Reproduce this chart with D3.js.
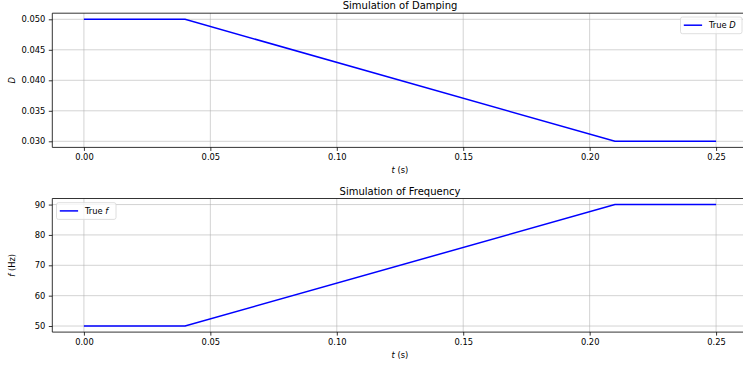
<!DOCTYPE html>
<html><head><meta charset="utf-8">
<script src="https://cdn.jsdelivr.net/npm/d3@7"></script>
<style>body{margin:0;background:#fff}svg{display:block;font-family:"DejaVu Sans",sans-serif}</style>
</head><body>
<svg id="c" width="743" height="369"></svg>
<script>
const timeBreaks = [0.0, 0.04, 0.21, 0.25];
const dampingValues = [0.05, 0.05, 0.03, 0.03];
const freqValues = [50, 50, 90, 90];
const xTicks = [0.00, 0.05, 0.10, 0.15, 0.20, 0.25];
const dTicks = [0.030, 0.035, 0.040, 0.045, 0.050];
const fTicks = [50, 60, 70, 80, 90];

const svg = d3.select("#c");
const W = 743;
const left = 52.3, right = 747.7;

function panel(cfg){
  const g = svg.append("g");
  const x = d3.scaleLinear().domain([-0.0125, 0.2625]).range([left, right]);
  const y = d3.scaleLinear().domain(cfg.ydom).range([cfg.bottom, cfg.top]);
  // grid
  g.append("g").selectAll("line").data(xTicks).join("line")
    .attr("x1", d=>x(d)).attr("x2", d=>x(d)).attr("y1", cfg.top).attr("y2", cfg.bottom)
    .attr("stroke", "#b0b0b0").attr("stroke-opacity", 0.7).attr("stroke-width", 0.8);
  g.append("g").selectAll("line").data(cfg.yticks).join("line")
    .attr("x1", left).attr("x2", right).attr("y1", d=>y(d)).attr("y2", d=>y(d))
    .attr("stroke", "#b0b0b0").attr("stroke-opacity", 0.7).attr("stroke-width", 0.8);
  // line
  const pts = timeBreaks.map((t,i)=>[t, cfg.values[i]]);
  g.append("path").datum(pts)
    .attr("d", d3.line().x(d=>x(d[0])).y(d=>y(d[1])))
    .attr("fill", "none").attr("stroke", "#0000ff").attr("stroke-width", 1.5);
  // axes
  const xa = g.append("g").attr("transform", `translate(0,${cfg.bottom})`)
    .call(d3.axisBottom(x).tickValues(xTicks).tickFormat(d3.format(".2f")).tickSize(3.5).tickPadding(3.5));
  const ya = g.append("g").attr("transform", `translate(${left},0)`)
    .call(d3.axisLeft(y).tickValues(cfg.yticks).tickFormat(cfg.fmt).tickSize(3.5).tickPadding(3.5));
  [xa, ya].forEach(a=>{
    a.select(".domain").attr("stroke", "#000").attr("stroke-width", 0.8);
    a.selectAll(".tick line").attr("stroke", "#000").attr("stroke-width", 0.8);
    a.selectAll("text").attr("font-size", "8.33px").attr("fill", "#000").attr("font-family", "DejaVu Sans");
  });
  xa.select(".domain").attr("d", `M${left},0H${right}`);
  ya.select(".domain").attr("d", `M0,${cfg.top}V${cfg.bottom}`);
  // top spine
  g.append("line").attr("x1", left).attr("x2", right).attr("y1", cfg.top).attr("y2", cfg.top)
    .attr("stroke", "#000").attr("stroke-width", 0.8);
  // title
  g.append("text").attr("x", (left+right)/2).attr("y", cfg.top-4).attr("text-anchor","middle")
    .attr("font-size","10px").attr("fill","#000").text(cfg.title);
  // x label
  const xl = g.append("text").attr("x", (left+right)/2).attr("y", cfg.bottom+26).attr("text-anchor","middle")
    .attr("font-size","8.33px").attr("fill","#000");
  xl.append("tspan").attr("font-style","italic").text("t");
  xl.append("tspan").text(" (s)");
  // y label
  const yl = g.append("text").attr("transform", `translate(${15},${(cfg.top+cfg.bottom)/2}) rotate(-90)`)
    .attr("text-anchor","middle").attr("font-size","8.33px").attr("fill","#000");
  yl.append("tspan").attr("font-style","italic").text(cfg.ylabItalic);
  if (cfg.ylabRest) yl.append("tspan").text(cfg.ylabRest);
  // legend
  const L = cfg.legend;
  const lg = g.append("g");
  lg.append("rect").attr("x", L.x).attr("y", L.y).attr("width", L.w).attr("height", 16.7)
    .attr("rx", 2).attr("fill", "#fff").attr("fill-opacity", 0.8).attr("stroke", "#d6d6d6").attr("stroke-width", 0.8);
  lg.append("line").attr("x1", L.x+3.3).attr("x2", L.x+21.6).attr("y1", L.y+8.2).attr("y2", L.y+8.2)
    .attr("stroke", "#0000ff").attr("stroke-width", 1.5);
  const lt = lg.append("text").attr("x", L.x+28.5).attr("y", L.y+11.2).attr("font-size","8.33px").attr("fill","#000");
  lt.append("tspan").text("True ");
  lt.append("tspan").attr("font-style","italic").text(L.sym);
}

panel({top:13.2, bottom:147.4, ydom:[0.029, 0.051], yticks:dTicks, fmt:d3.format(".3f"),
  values:dampingValues, title:"Simulation of Damping", ylabItalic:"D", ylabRest:"",
  legend:{x:680.5, y:17, w:61.5, sym:"D"}});
panel({top:198.5, bottom:332.1, ydom:[48, 92], yticks:fTicks, fmt:d3.format("d"),
  values:freqValues, title:"Simulation of Frequency", ylabItalic:"f", ylabRest:" (Hz)",
  legend:{x:56.5, y:202.7, w:59.5, sym:"f"}});
</script>
</body></html>
